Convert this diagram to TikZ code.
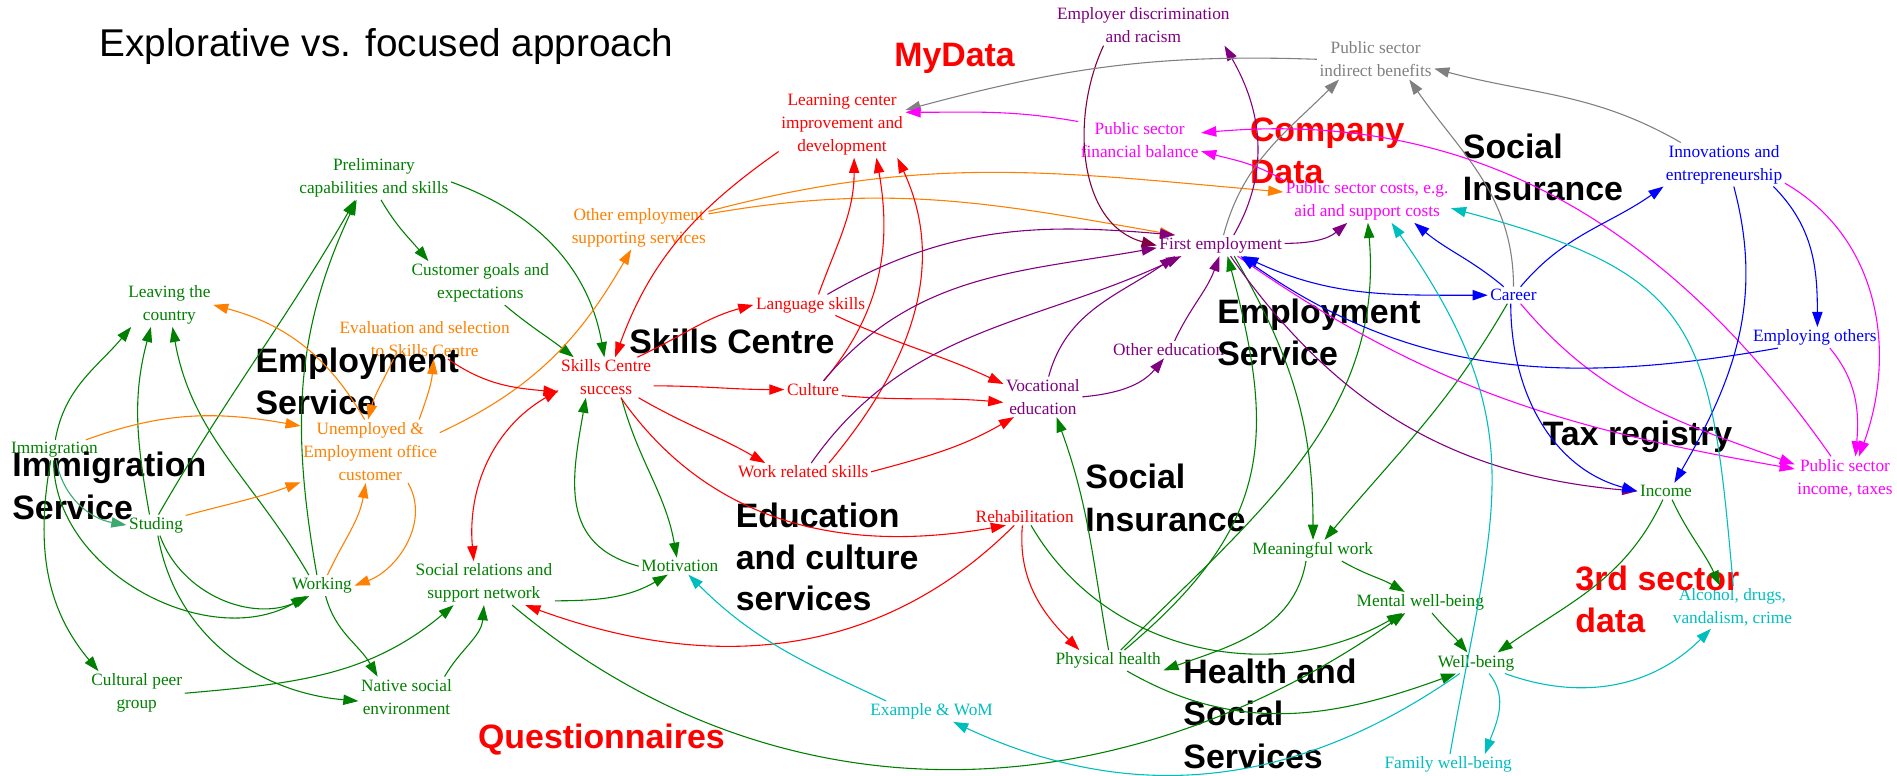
\documentclass[tikz,border=0pt]{standalone}
\usepackage{fontspec}
\setmainfont{Liberation Serif}
\newfontfamily\lsans{Liberation Sans}
\usetikzlibrary{arrows.meta}
\definecolor{cg}{RGB}{0,128,0}
\definecolor{co}{RGB}{255,128,0}
\definecolor{cr}{RGB}{255,0,0}
\definecolor{cp}{RGB}{128,0,128}
\definecolor{cpd}{RGB}{128,0,64}
\definecolor{cm}{RGB}{255,0,255}
\definecolor{cb}{RGB}{0,0,255}
\definecolor{cc}{RGB}{0,190,190}
\definecolor{cgr}{RGB}{128,128,128}
\definecolor{csg}{RGB}{60,170,110}
\begin{document}
\begin{tikzpicture}[x=1pt,y=1pt,
  every node/.style={inner sep=2pt,align=center,font=\fontsize{14.3}{19}\selectfont},
  big/.style={font=\lsans\bfseries\fontsize{28}{35}\selectfont,inner sep=0pt,anchor=base west},
  gN/.style={text=cg}, oN/.style={text=co}, rN/.style={text=cr}, pN/.style={text=cp},
  mN/.style={text=cm}, bN/.style={text=cb}, cN/.style={text=cc}, grN/.style={text=cgr},
  ar/.style={line width=0.9pt,-{Triangle[length=12.5pt,width=8.5pt]}},
  arb/.style={line width=0.9pt,{Triangle[length=12.5pt,width=8.5pt]}-{Triangle[length=12.5pt,width=8.5pt]}},
  gE/.style={ar,draw=cg}, sgE/.style={ar,draw=csg}, oE/.style={ar,draw=co},
  rE/.style={ar,draw=cr}, rEb/.style={arb,draw=cr}, pE/.style={ar,draw=cp},
  pdE/.style={ar,draw=cpd}, mE/.style={ar,draw=cm}, bE/.style={ar,draw=cb},
  bEb/.style={arb,draw=cb}, cE/.style={ar,draw=cc}, grE/.style={ar,draw=cgr}
]
\useasboundingbox (0,0) rectangle (1568,-641);

% title
\node[font=\lsans\fontsize{32}{38}\selectfont,inner sep=0pt,anchor=base west] (title) at (82,-47) {Explorative vs. focused approach};

% concept nodes
\node[gN] (prelim) at (309,-147) {Preliminary\\capabilities and skills};
\node[gN] (custgoals) at (397,-234) {Customer goals and\\expectations};
\node[gN] (leaving) at (140,-252) {Leaving the\\country};
\node[oN] (evalsel) at (351,-280) {Evaluation and selection\\to Skills Centre};
\node[oN] (otheremp) at (528,-188) {Other employment\\supporting services};
\node[oN] (unemp) at (306,-373) {Unemployed \&\\Employment office\\customer};
\node[gN] (immig) at (45,-372) {Immigration};
\node[gN] (studing) at (129,-434) {Studing};
\node[gN] (working) at (266,-484) {Working};
\node[gN] (socrel) at (400,-482) {Social relations and\\support network};
\node[gN] (motivation) at (562,-468) {Motivation};
\node[gN] (culturalpeer) at (113,-573) {Cultural peer\\group};
\node[gN] (native) at (336,-576) {Native social\\environment};
\node[rN] (skillscs) at (501,-312) {Skills Centre\\success};
\node[rN] (language) at (670,-252) {Language skills};
\node[rN] (culture) at (672,-322) {Culture};
\node[rN] (workrel) at (664,-390) {Work related skills};
\node[rN] (learning) at (696,-103) {Learning center\\improvement and\\development};
\node[pN] (vocational) at (862,-328) {Vocational\\education};
\node[rN] (rehab) at (847,-427) {Rehabilitation};
\node[pN] (otheredu) at (966,-289) {Other education};
\node[pN] (firstemp) at (1009,-203) {First employment};
\node[pN] (empdisc) at (945,-21) {Employer discrimination\\and racism};
\node[mN] (pubfin) at (942,-116) {Public sector\\financial balance};
\node[grN] (pubind) at (1137,-49) {Public sector\\indirect benefits};
\node[mN] (pubcosts) at (1130,-166) {Public sector costs, e.g.\\aid and support costs};
\node[bN] (career) at (1251,-244) {Career};
\node[bN] (innov) at (1425,-136) {Innovations and\\entrepreneurship};
\node[bN] (employing) at (1500,-279) {Employing others};
\node[mN] (pubinc) at (1525,-395) {Public sector\\income, taxes};
\node[gN] (income) at (1377,-406) {Income};
\node[gN] (meaningful) at (1085,-455) {Meaningful work};
\node[gN] (mental) at (1174,-498) {Mental well-being};
\node[gN] (wellbeing) at (1220,-548) {Well-being};
\node[cN] (alcohol) at (1432,-502) {Alcohol, drugs,\\vandalism, crime};
\node[cN] (family) at (1197,-632) {Family well-being};
\node[gN] (physical) at (916,-546) {Physical health};
\node[cN] (example) at (770,-588) {Example \& WoM};

% big labels
\node[big] (lEmpLa) at (211,-308) {Employment};
\node[big] (lEmpLb) at (211,-343) {Service};
\node[big] (lImma) at (10,-394) {Immigration};
\node[big] (lImmb) at (10,-429) {Service};
\node[big] (lSkills) at (520,-292) {Skills Centre};
\node[big] (lEdua) at (608,-436) {Education};
\node[big] (lEdub) at (608,-470.5) {and culture};
\node[big] (lEduc) at (608,-505) {services};
\node[big] (lEmpRa) at (1006,-267) {Employment};
\node[big] (lEmpRb) at (1006,-302) {Service};
\node[big] (lSocAa) at (1209,-131) {Social};
\node[big] (lSocAb) at (1209,-166) {Insurance};
\node[big] (lSocBa) at (897,-404) {Social};
\node[big] (lSocBb) at (897,-439) {Insurance};
\node[big] (lTax) at (1275,-368) {Tax registry};
\node[big] (lHa) at (978,-565) {Health and};
\node[big] (lHb) at (978,-600) {Social};
\node[big] (lHc) at (978,-635) {Services};
\node[big,text=cr] (lMy) at (739,-55) {MyData};
\node[big,text=cr] (lCompa) at (1033,-117) {Company};
\node[big,text=cr] (lCompb) at (1033,-152) {Data};
\node[big,text=cr] (lQ) at (395,-619) {Questionnaires};
\node[big,text=cr] (l3a) at (1302,-488) {3rd sector};
\node[big,text=cr] (l3b) at (1302,-523) {data};

% green edges
\draw[gE] (prelim.-3) to[out=-20,in=100] (skillscs.95);
\draw[gE] (prelim.-72) to[out=-60,in=130] (custgoals.157);
\draw[gE] (custgoals.-42) to[out=-40,in=142] (skillscs.148);
\draw[gE] (immig.85) to[out=80,in=-130] (leaving.-150);
\draw[gE] (studing.122) to[out=100,in=-105] (leaving.-130);
\draw[gE] (working.141) to[out=120,in=-80] (leaving.-82);
\draw[gE] (studing.77) to[out=60,in=-120] (prelim.-130);
\draw[gE] (working.115) to[out=100,in=-115] (prelim.-128);
\draw[sgE] (immig.-80) to[out=-80,in=170] (studing.west);
\draw[gE] (immig.-95) to[out=-90,in=-150] (working.-146);
\draw[gE] (studing.-70) to[out=-70,in=-155] (working.-140);
\draw[gE] (immig.-110) to[out=-100,in=130] (culturalpeer.150);
\draw[gE] (studing.-80) to[out=-80,in=175] (native.-175);
\draw[gE] (working.-70) to[out=-75,in=120] (native.145);
\draw[gE] (culturalpeer.0) to[out=5,in=-140] (socrel.-144);
\draw[gE] (native.28) to[out=60,in=-95] (socrel.-90);
\draw[gE] (socrel.-14) to[out=0,in=-150] (motivation.-145);
\draw[gE] (socrel.-38) to[out=-40,in=-145] (mental.-145);
\draw[gE] (motivation.west) to[out=165,in=-100,looseness=1.2] (skillscs.-135);
\draw[gE] (skillscs.-53) to[out=-75,in=100] (motivation.110);
\draw[gE] (rehab.-54) to[out=-60,in=-150] (mental.-150);
\draw[gE] (physical.-29) to[out=-30,in=-160] (wellbeing.-152);
\draw[gE] (physical.88) to[out=100,in=-70] (vocational.-56);
\draw[gE] (physical.33) to[out=40,in=-75,looseness=1.2] (firstemp.-57);
\draw[gE] (physical.40) to[out=45,in=-85] (pubcosts.-88);
\draw[gE] (firstemp.-38) to[out=-60,in=90] (meaningful.88);
\draw[gE] (career.-126) to[out=-120,in=50] (meaningful.42);
\draw[gE] (meaningful.-122) to[out=-100,in=20] (physical.-10);
\draw[gE] (meaningful.-20) to[out=-30,in=150] (mental.146);
\draw[gE] (mental.-42) to[out=-50,in=130] (wellbeing.129);
\draw[gE] (income.-110) to[out=-115,in=35] (wellbeing.26);
\draw[gE] (income.-54) to[out=-65,in=115] (alcohol.120);

% orange edges
\draw[oE] (unemp.100) to[out=120,in=-15] (leaving.east);
\draw[oE] (evalsel.-147) to[out=-115,in=75] (unemp.94);
\draw[oE] (unemp.33) to[out=70,in=-95] (evalsel.-66);
\draw[oE] (immig.18) to[out=20,in=170] (unemp.160);
\draw[oE] (studing.18) to[out=15,in=-160] (unemp.-156);
\draw[oE] (working.62) to[out=65,in=-100] (unemp.-98);
\draw[oE] (unemp.-40) to[out=-60,in=20] (working.east);
\draw[oE] (unemp.15) to[out=25,in=-120] (otheremp.-109);
\draw[oE] (otheremp.11) to[out=10,in=170] (firstemp.167);
\draw[oE] (otheremp.13) to[out=15,in=175] (pubcosts.174);

% red edges
\draw[rE] (evalsel.-41) to[out=-35,in=175] (skillscs.-163);
\draw[rE] (learning.-157) to[out=-145,in=70] (skillscs.66);
\draw[rEb] (socrel.115) to[out=95,in=-150] (skillscs.-165);
\draw[rE] (skillscs.33) to[out=25,in=-165] (language.west);
\draw[rE] (skillscs.-10) to[out=0,in=180] (culture.west);
\draw[rE] (skillscs.-32) to[out=-30,in=150] (workrel.167);
\draw[rE] (skillscs.-54) to[out=-55,in=190] (rehab.-155);
\draw[rE] (rehab.-140) to[out=-135,in=-20] (socrel.-28);
\draw[rE] (rehab.-105) to[out=-95,in=135] (physical.160);
\draw[rE] (language.53) to[out=70,in=-90] (learning.-70);
\draw[rE] (culture.39) to[out=50,in=-80] (learning.-44);
\draw[rE] (workrel.19) to[out=50,in=-65] (learning.-31);
\draw[rE] (language.-23) to[out=-25,in=155] (vocational.162);
\draw[rE] (culture.-12) to[out=-5,in=175] (vocational.-172);
\draw[rE] (workrel.0) to[out=15,in=-150] (vocational.-145);

% purple edges
\draw[pE] (language.32) to[out=30,in=175] (firstemp.167);
\draw[pE] (culture.40) to[out=50,in=-170] (firstemp.-178);
\draw[pE] (workrel.48) to[out=55,in=-155] (firstemp.-165);
\draw[pE] (vocational.74) to[out=75,in=-145] (firstemp.-167);
\draw[pE] (vocational.0) to[out=5,in=-130] (otheredu.-118);
\draw[pE] (otheredu.56) to[out=65,in=-110] (firstemp.-97);
\draw[pE] (firstemp.39) to[out=60,in=-60] (empdisc.-14);
\draw[pdE] (empdisc.-153) to[out=-115,in=165] (firstemp.180);
\draw[pE] (firstemp.2) to[out=0,in=-140] (pubcosts.-132);
\draw[pE] (firstemp.-47) to[out=-55,in=175] (income.180);

% gray edges
\draw[grE] (firstemp.75) to[out=75,in=-135] (pubind.-151);
\draw[grE] (career.90) to[out=90,in=-55] (pubind.-31);
\draw[grE] (innov.153) to[out=150,in=-15] (pubind.-9);
\draw[grE] (pubind.180) to[out=178,in=15] (learning.13);

% magenta edges
\draw[mE] (pubfin.163) to[out=170,in=0] (learning.11);
\draw[mE] (pubinc.123) to[out=125,in=5] (pubfin.7);
\draw[mE] (pubcosts.166) to[out=150,in=-15] (pubfin.-10);
\draw[mE] (innov.-17) to[out=-30,in=70] (pubinc.57);
\draw[mE] (employing.-35) to[out=-50,in=85] (pubinc.64);
\draw[mE] (firstemp.-32) to[out=-35,in=170] (pubinc.170);
\draw[mE] (career.-50) to[out=-50,in=160] (pubinc.165);

% blue edges
\draw[bEb] (firstemp.-25) to[out=-25,in=180] (career.west);
\draw[bE] (employing.-164) to[out=-170,in=-35] (firstemp.-28);
\draw[bE] (career.139) to[out=140,in=-40] (pubcosts.-25);
\draw[bE] (career.50) to[out=50,in=-145] (innov.-160);
\draw[bE] (career.-108) to[out=-90,in=165] (income.west);
\draw[bE] (innov.-66) to[out=-75,in=60] (income.45);
\draw[bE] (innov.-24) to[out=-45,in=90] (employing.76);

% cyan edges
\draw[cE] (wellbeing.-20) to[out=-20,in=-135] (alcohol.-135);
\draw[cE] (wellbeing.-39) to[out=-50,in=70] (family.16);
\draw[cE] (wellbeing.-147) to[out=-145,in=-25] (example.-26);
\draw[cE] (example.167) to[out=155,in=-45] (motivation.-45);
\draw[cE] (family.80) to[out=80,in=-55,looseness=1.2] (pubcosts.-42);
\draw[cE] (alcohol.88) to[out=95,in=-15,looseness=1.4] (pubcosts.-5);
\end{tikzpicture}
\end{document}
